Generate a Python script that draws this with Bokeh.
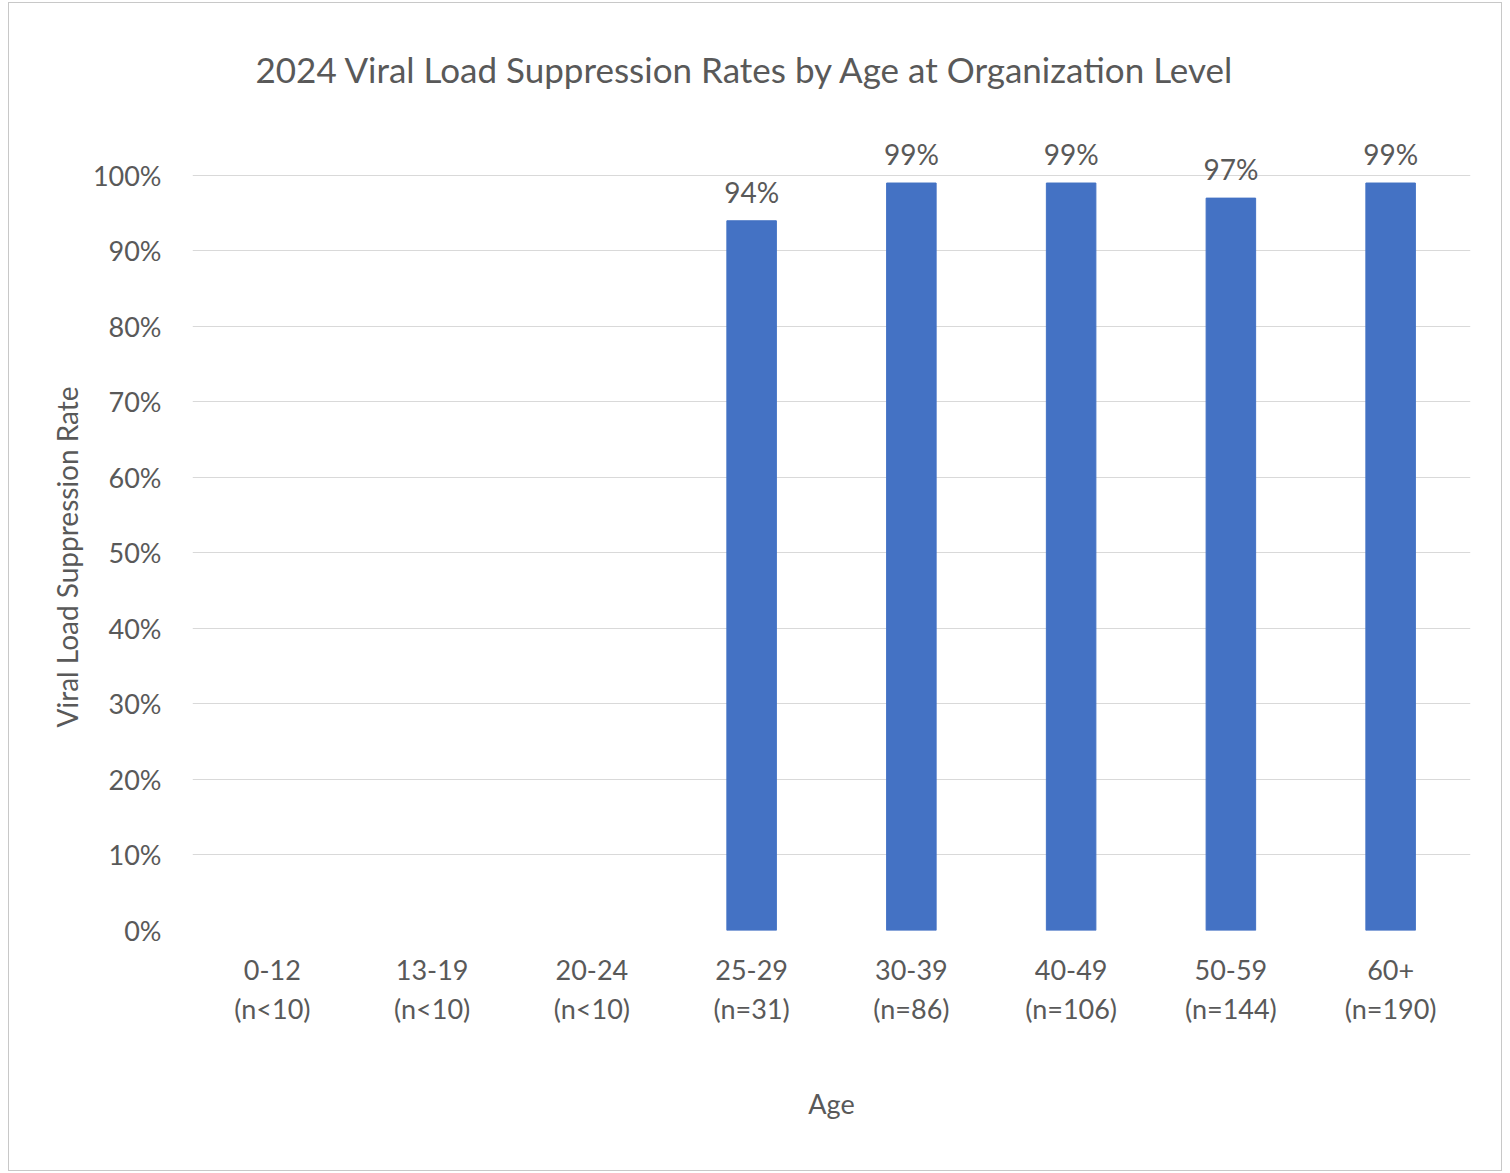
from bokeh.plotting import figure
from bokeh.models import ColumnDataSource, FactorRange, Range1d, FixedTicker, NumeralTickFormatter, LabelSet, Title
from bokeh.core.properties import value
from bokeh.embed import file_html
from bokeh.resources import INLINE

age_groups = ["0-12", "13-19", "20-24", "25-29", "30-39", "40-49", "50-59", "60+"]
group_sizes = ["(n<10)", "(n<10)", "(n<10)", "(n=31)", "(n=86)", "(n=106)", "(n=144)", "(n=190)"]
suppression_rate = [None, None, None, 0.94, 0.99, 0.99, 0.97, 0.99]
y_ticks = [0.0, 0.1, 0.2, 0.3, 0.4, 0.5, 0.6, 0.7, 0.8, 0.9, 1.0]

categories = [f"{a}\n{n}" for a, n in zip(age_groups, group_sizes)]
shown = [(c, v) for c, v in zip(categories, suppression_rate) if v is not None]
src = ColumnDataSource(dict(
    cat=[c for c, _ in shown],
    val=[v for _, v in shown],
    lbl=[f"{round(v*100)}%" for _, v in shown],
))

FONT = "Lato"
GREY = "#595959"

# frame spans 0 .. ~1.1 so that the value labels above the bars are not clipped
p = figure(x_range=FactorRange(*categories, range_padding=0), y_range=Range1d(0, 1.0993),
           width=1494, height=1169, output_backend="svg", toolbar_location=None,
           min_border_left=183, min_border_right=33, min_border_top=97, min_border_bottom=242)
p.styles = {"border": "1px solid #C8C8C8", "margin-left": "8px", "margin-top": "2px"}
p.outline_line_color = None
p.background_fill_color = "white"
p.border_fill_color = "white"

p.vbar(x="cat", top="val", width=0.31, source=src, fill_color="#4472C4", line_color="#4472C4")

labels = LabelSet(x="cat", y="val", text="lbl", source=src, text_align="center", text_baseline="bottom",
                  y_offset=12, text_font=value(FONT), text_font_size=value("28px"), text_color=GREY)
p.add_layout(labels)

title = Title(text="2024 Viral Load Suppression Rates by Age at Organization Level", align="left",
              offset=63, standoff=22, text_font=FONT, text_font_size="35px", text_font_style="normal",
              text_color=GREY)
p.add_layout(title, "above")

p.yaxis.ticker = FixedTicker(ticks=y_ticks)
p.yaxis.formatter = NumeralTickFormatter(format="0%")
p.xaxis.axis_label = "Age"
for ax in (p.xaxis, p.yaxis):
    ax.axis_line_color = None
    ax.major_tick_line_color = None
    ax.minor_tick_line_color = None
    ax.major_label_text_font = FONT
    ax.major_label_text_color = GREY
    ax.axis_label_text_font = FONT
    ax.axis_label_text_color = GREY
    ax.axis_label_text_font_style = "normal"
p.yaxis.major_label_text_font_size = "27px"
p.yaxis.major_label_standoff = 25
p.xaxis.major_label_text_font_size = "27px"
p.xaxis.major_label_text_line_height = 1.2
p.xaxis.major_label_standoff = 16
p.xaxis.axis_label_text_font_size = "27px"
p.xaxis.axis_label_standoff = 59

# y-axis title centred on the 0-100% span (not on the taller frame)
ytitle = Title(text="Viral Load Suppression Rate", align="left", offset=203, standoff=11,
               text_font=FONT, text_font_size="28px", text_font_style="normal", text_color=GREY)
p.add_layout(ytitle, "left")

p.xgrid.grid_line_color = None
p.ygrid.grid_line_color = "#D9D9D9"
p.ygrid.grid_line_width = 1

open("out.html", "w").write(file_html(p, INLINE))
